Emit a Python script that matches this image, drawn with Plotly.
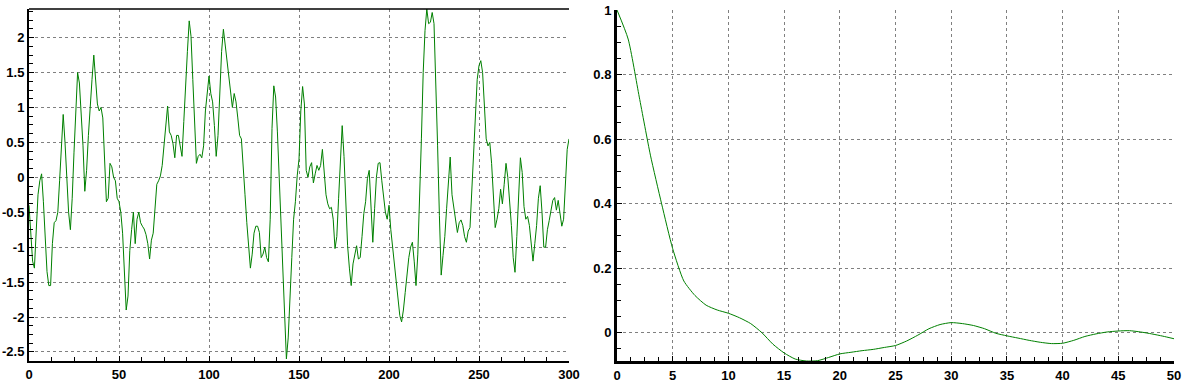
import plotly.graph_objects as go

# ---- data: time series (samples 0..300) ----
series_t = list(range(0, 301))
series_v = [
    -0.4, -0.8, -1.2, -1.3, -0.65, -0.25, -0.05, 0.05, -0.35, -0.95,
    -1.35, -1.55, -1.55, -0.95, -0.65, -0.62, -0.5, -0.05, 0.55, 0.9,
    0.5, -0.05, -0.5, -0.75, -0.3, 0.36, 0.88, 1.5, 1.35, 0.9,
    0.45, -0.2, 0.1, 0.6, 1.05, 1.4, 1.75, 1.4, 1.05, 0.95,
    1.0, 0.85, 0.2, -0.35, -0.3, 0.2, 0.15, 0.0, -0.05, -0.3,
    -0.35, -0.5, -0.8, -1.45, -1.9, -1.7, -1.05, -0.75, -0.5, -0.95,
    -0.6, -0.5, -0.65, -0.7, -0.74, -0.82, -0.95, -1.17, -0.9, -0.8,
    -0.5, -0.1, -0.05, 0.02, 0.17, 0.42, 0.75, 1.02, 0.65, 0.6,
    0.48, 0.28, 0.6, 0.6, 0.45, 0.3, 0.8, 1.36, 1.8, 2.24,
    2.02, 1.4, 0.85, 0.2, 0.3, 0.33, 0.28, 0.45, 0.95, 1.2,
    1.45, 1.2, 1.08, 0.74, 0.3, 0.6, 1.2, 1.8, 2.12, 1.9,
    1.65, 1.45, 1.25, 1.0, 1.2, 1.08, 0.85, 0.6, 0.55, 0.2,
    -0.25, -0.65, -1.05, -1.3, -1.1, -0.8, -0.7, -0.7, -0.79, -1.15,
    -1.1, -1.0, -1.15, -1.21, -0.6, 0.7, 1.31, 1.15, 0.65, 0.05,
    -0.6, -1.2, -1.8, -2.6, -2.3, -1.6, -1.15, -0.6, -0.35, 0.02,
    0.26, 0.95, 1.3, 1.05, 0.1, 0.0, 0.15, 0.21, -0.08, 0.05,
    0.17, 0.1, 0.17, 0.4, 0.05, -0.25, -0.38, -0.45, -0.43, -0.6,
    -1.02, -0.85, -0.3, 0.31, 0.74, 0.3, -0.3, -0.98, -1.3, -1.55,
    -1.24, -1.12, -0.98, -1.17, -1.15, -0.85, -0.52, -0.35, -0.02, 0.1,
    -0.4, -0.93, -0.45, 0.0, 0.2, 0.21, -0.05, -0.3, -0.5, -0.6,
    -0.4, -0.75, -1.0, -1.3, -1.55, -1.79, -1.98, -2.07, -1.9, -1.65,
    -1.38, -1.15, -1.0, -0.93, -1.2, -1.55, -1.1, -0.35, 0.55, 1.5,
    2.1, 2.41, 2.2, 2.22, 2.36, 2.2, 1.4, 0.45, -0.55, -1.4,
    -1.12, -0.85, -0.45, -0.1, 0.29, -0.25, -0.45, -0.65, -0.79, -0.65,
    -0.61, -0.69, -0.85, -0.93, -0.77, -0.72, -0.2, 0.5, 1.05, 1.4,
    1.6, 1.67, 1.5, 1.0, 0.55, 0.45, 0.5, 0.2, -0.25, -0.72,
    -0.6, -0.45, -0.17, -0.38, -0.1, 0.2, 0.0, -0.3, -0.69, -1.15,
    -1.36, -0.85, -0.31, 0.28, 0.07, -0.42, -0.6, -0.56, -0.69, -0.93,
    -1.2, -0.95, -0.69, -0.3, -0.12, -0.5, -1.0, -1.0, -0.75, -0.62,
    -0.45, -0.33, -0.29, -0.47, -0.33, -0.5, -0.7, -0.6, -0.12, 0.4,
    0.55,
]

# ---- data: autocorrelation (lags 0..50) ----
acf_lag = list(range(0, 51))
acf_v = [
    1.0, 0.91, 0.73, 0.55, 0.40, 0.26, 0.16, 0.115, 0.085, 0.07,
    0.06, 0.046, 0.028, 0.0, -0.036, -0.063, -0.082, -0.088, -0.087, -0.077,
    -0.066, -0.061, -0.056, -0.052, -0.046, -0.04, -0.026, -0.008, 0.012, 0.025,
    0.031, 0.028, 0.022, 0.012, -0.002, -0.01, -0.017, -0.024, -0.03, -0.034,
    -0.033, -0.024, -0.012, -0.004, 0.002, 0.005, 0.006, 0.002, -0.004, -0.011,
    -0.019,
]

left_xticks = [0, 50, 100, 150, 200, 250, 300]
left_yticks = [2, 1.5, 1, 0.5, 0, -0.5, -1, -1.5, -2, -2.5]
right_xticks = [0, 5, 10, 15, 20, 25, 30, 35, 40, 45, 50]
right_yticks = [1, 0.8, 0.6, 0.4, 0.2, 0]

W, H = 1189, 386
GREEN = "#008000"
GRID = "#808080"
tickfont = dict(family="Liberation Sans, Arial, sans-serif", size=13, color="black", weight="bold")

fig = go.Figure()
fig.add_trace(go.Scatter(x=series_t, y=series_v, mode="lines",
                         line=dict(color=GREEN, width=1), xaxis="x", yaxis="y",
                         hoverinfo="skip"))
fig.add_trace(go.Scatter(x=acf_lag, y=acf_v, mode="lines",
                         line=dict(color=GREEN, width=1, shape="spline", smoothing=0.6),
                         xaxis="x2", yaxis="y2", hoverinfo="skip"))

def px_x(p):
    return p / W

def px_y(p):
    return 1 - p / H

common = dict(showgrid=True, gridcolor=GRID, griddash="3px,3px", gridwidth=1,
              zeroline=False, showline=True, linecolor="black",
              ticks="inside", ticklen=5, tickcolor="black", tickfont=tickfont,
              fixedrange=True, automargin=False)

fig.update_layout(
    width=W, height=H,
    margin=dict(l=0, r=0, t=0, b=0, autoexpand=False),
    paper_bgcolor="white", plot_bgcolor="white",
    showlegend=False,
    xaxis=dict(domain=[px_x(29), px_x(569)], range=[0, 300], anchor="y",
               tickvals=left_xticks, ticktext=[str(v) for v in left_xticks],
               linewidth=2,
               minor=dict(dtick=12.5, ticks="inside", ticklen=4, tickcolor="black", showgrid=False),
               **common),
    yaxis=dict(domain=[px_y(361), px_y(9)], range=[-2.63, 2.41], anchor="x",
               tickvals=left_yticks, ticktext=[f"{v:g}" for v in left_yticks],
               linewidth=2,
               minor=dict(dtick=0.125, ticks="inside", ticklen=4, tickcolor="black", showgrid=False),
               **common),
    xaxis2=dict(domain=[px_x(617), px_x(1174)], range=[0, 50], anchor="y2",
                tickvals=right_xticks, ticktext=[str(v) for v in right_xticks],
                linewidth=3,
                minor=dict(dtick=1.25, ticks="inside", ticklen=4, tickcolor="black", showgrid=False),
                **common),
    yaxis2=dict(domain=[px_y(361), px_y(10)], range=[-0.088, 1.0], anchor="x2",
                tickvals=right_yticks, ticktext=[f"{v:g}" for v in right_yticks],
                linewidth=3,
                minor=dict(dtick=0.05, ticks="inside", ticklen=4, tickcolor="black", showgrid=False),
                **common),
    shapes=[dict(type="line", xref="x domain", yref="y domain", x0=0, x1=1, y0=1, y1=1,
                 line=dict(color="black", width=1.5))],
)

fig.write_html("out.html",
               config={"displayModeBar": False, "staticPlot": True},
               post_script="document.body.style.margin='0';document.body.style.padding='0';document.body.style.overflow='hidden';")
